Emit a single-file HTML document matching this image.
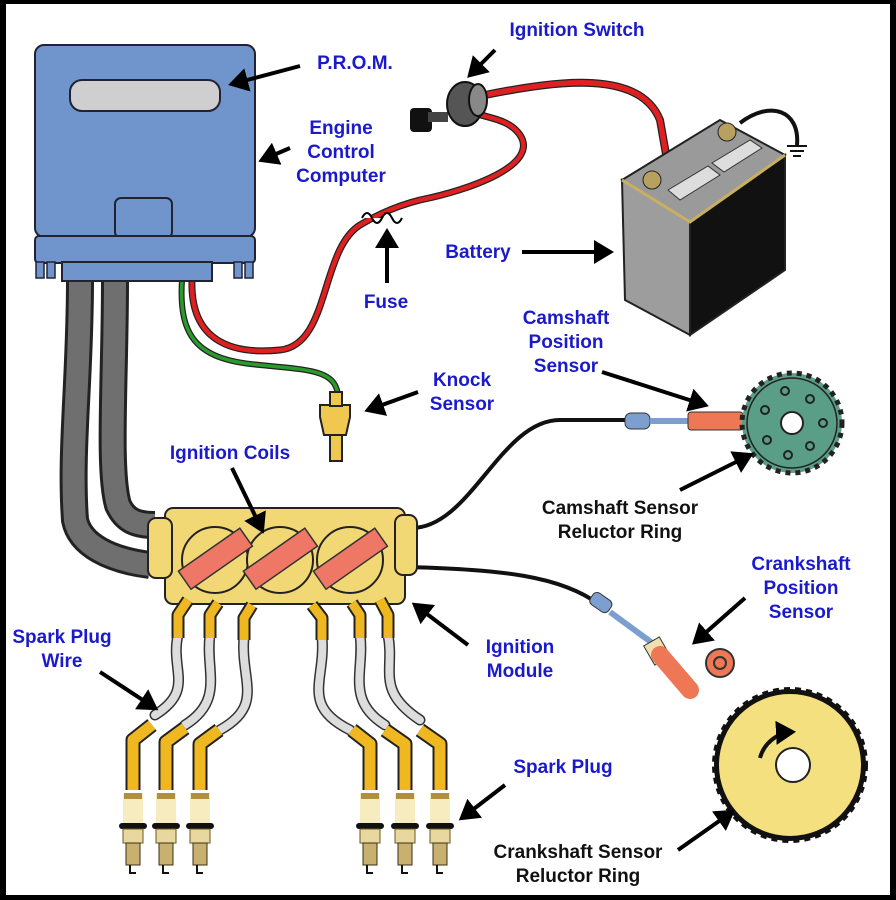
<!DOCTYPE html>
<html><head><meta charset="utf-8"><style>
html,body{margin:0;padding:0;background:#000}
svg{display:block}
.b{font-family:"Liberation Sans",sans-serif;font-weight:bold;font-size:19px;fill:#1a1acc;text-anchor:middle}
.k{font-family:"Liberation Sans",sans-serif;font-weight:bold;font-size:19px;fill:#111;text-anchor:middle}
.ar{stroke:#000;stroke-width:4;fill:none;marker-end:url(#ah)}
</style></head><body>
<svg width="896" height="900" viewBox="0 0 896 900" xmlns="http://www.w3.org/2000/svg">
<defs>
<marker id="ah" markerWidth="6" markerHeight="6" refX="4" refY="3" orient="auto" markerUnits="strokeWidth"><path d="M0,0 L5,3 L0,6 Z" fill="#000"/></marker>
<g id="plug">
<rect x="-10" y="793" width="20" height="30" fill="#f6ecc0"/>
<rect x="-9" y="793" width="18" height="6" fill="#b09040"/>
<rect x="-14" y="823" width="28" height="6" rx="3" fill="#111"/>
<rect x="-10" y="829" width="20" height="14" fill="#e8d8a0" stroke="#6a5a20"/>
<rect x="-7" y="843" width="14" height="22" fill="#c8b070" stroke="#3a3010"/>
<path d="M-3,865 v8 h6" stroke="#111" stroke-width="2" fill="none"/>
</g>
</defs>
<rect x="0" y="0" width="896" height="900" fill="#000"/>
<rect x="6" y="4" width="884" height="891" fill="#fff"/>

<path d="M80,280 C80,380 70,450 75,520 C80,545 110,560 150,565" stroke="#222" stroke-width="28" fill="none"/>
<path d="M80,280 C80,380 70,450 75,520 C80,545 110,560 150,565" stroke="#6f6f6f" stroke-width="22" fill="none"/>
<path d="M115,280 C115,380 108,470 118,505 C125,520 135,525 155,525" stroke="#222" stroke-width="28" fill="none"/>
<path d="M115,280 C115,380 108,470 118,505 C125,520 135,525 155,525" stroke="#6f6f6f" stroke-width="22" fill="none"/>

<path d="M192,280 C190,340 230,355 280,350 C330,345 320,250 360,225 C380,213 400,205 420,200 C470,190 540,165 520,135 C510,120 490,118 470,112" stroke="#222" stroke-width="7" fill="none"/>
<path d="M192,280 C190,340 230,355 280,350 C330,345 320,250 360,225 C380,213 400,205 420,200 C470,190 540,165 520,135 C510,120 490,118 470,112" stroke="#e02020" stroke-width="4.5" fill="none"/>
<path d="M485,95 C560,80 640,70 660,120 L667,160" stroke="#222" stroke-width="8" fill="none"/>
<path d="M485,95 C560,80 640,70 660,120 L667,160" stroke="#e02020" stroke-width="5.5" fill="none"/>
<path d="M362,218 q5,-10 10,0 q5,10 10,0 q5,-10 10,0 q5,10 10,0" stroke="#000" stroke-width="2" fill="#fff"/>
<path d="M182,280 C178,340 200,360 260,365 C310,370 335,370 338,395" stroke="#222" stroke-width="6" fill="none"/>
<path d="M182,280 C178,340 200,360 260,365 C310,370 335,370 338,395" stroke="#2a9a2a" stroke-width="3.5" fill="none"/>

<rect x="35" y="45" width="220" height="192" rx="9" fill="#7095cc" stroke="#223" stroke-width="2"/>
<rect x="70" y="80" width="150" height="31" rx="12" fill="#cfcfcf" stroke="#223" stroke-width="2"/>
<rect x="115" y="198" width="57" height="40" rx="6" fill="#7095cc" stroke="#223" stroke-width="2"/>
<rect x="35" y="236" width="220" height="27" rx="4" fill="#7095cc" stroke="#223" stroke-width="2"/>
<rect x="62" y="262" width="150" height="19" fill="#7095cc" stroke="#223" stroke-width="2"/>
<rect x="36" y="262" width="8" height="16" fill="#7095cc" stroke="#223" stroke-width="1.5"/>
<rect x="47" y="262" width="8" height="16" fill="#7095cc" stroke="#223" stroke-width="1.5"/>
<rect x="234" y="262" width="8" height="16" fill="#7095cc" stroke="#223" stroke-width="1.5"/>
<rect x="245" y="262" width="8" height="16" fill="#7095cc" stroke="#223" stroke-width="1.5"/>

<rect x="410" y="108" width="22" height="24" rx="4" fill="#111"/>
<rect x="428" y="112" width="20" height="10" fill="#444"/>
<ellipse cx="465" cy="104" rx="18" ry="22" fill="#555" stroke="#111" stroke-width="2"/>
<ellipse cx="478" cy="100" rx="9" ry="16" fill="#888" stroke="#111" stroke-width="2"/>

<polygon points="622,180 720,120 785,155 690,222" fill="#9a9a9a" stroke="#222" stroke-width="2"/>
<polygon points="622,180 690,222 690,335 625,300" fill="#9d9d9d" stroke="#222" stroke-width="2"/>
<polygon points="690,222 785,155 785,270 690,335" fill="#111" stroke="#222" stroke-width="2"/>
<path d="M622,180 L690,222 L785,155" stroke="#c8b060" stroke-width="3" fill="none"/>
<polygon points="668,190 708,166 720,175 680,200" fill="#ddd" stroke="#333"/>
<polygon points="712,163 750,140 762,148 724,172" fill="#ddd" stroke="#333"/>
<circle cx="652" cy="180" r="9" fill="#b8a060" stroke="#222"/>
<circle cx="727" cy="132" r="9" fill="#b8a060" stroke="#222"/>
<path d="M740,123 C770,100 800,110 797,145" stroke="#111" stroke-width="4" fill="none"/>
<path d="M787,146 h20 M790,151 h14 M793,156 h8" stroke="#111" stroke-width="2"/>

<path d="M320,405 h30 v12 l-4,18 h-22 l-4,-18z" fill="#f0c850" stroke="#222" stroke-width="2"/>
<rect x="330" y="392" width="12" height="14" fill="#f0c850" stroke="#222" stroke-width="2"/>
<rect x="330" y="435" width="12" height="26" fill="#f0c850" stroke="#222" stroke-width="2"/>

<path d="M410,528 C470,530 500,420 560,420 L630,420" stroke="#111" stroke-width="4" fill="none"/>
<rect x="625" y="413" width="25" height="16" rx="6" fill="#7d9fd0" stroke="#333"/>
<rect x="650" y="418" width="40" height="6" fill="#7d9fd0"/>
<rect x="688" y="412" width="55" height="18" rx="3" fill="#ee7755" stroke="#333"/>
<circle cx="792" cy="423" r="50" fill="#5a9e88" stroke="#222" stroke-width="5" stroke-dasharray="5 5"/>
<circle cx="792" cy="423" r="45" fill="#5a9e88" stroke="#222" stroke-width="1.5"/>
<circle cx="792" cy="423" r="11" fill="#fff" stroke="#222" stroke-width="2"/>
<g fill="none" stroke="#222" stroke-width="2">
<circle cx="785" cy="391" r="4"/><circle cx="810" cy="399" r="4"/><circle cx="823" cy="423" r="4"/><circle cx="810" cy="446" r="4"/><circle cx="788" cy="455" r="4"/><circle cx="767" cy="440" r="4"/><circle cx="765" cy="410" r="4"/></g>

<path d="M410,567 C500,570 560,575 600,605" stroke="#111" stroke-width="4" fill="none"/>
<rect x="590" y="595" width="22" height="14" rx="5" fill="#7d9fd0" stroke="#333" transform="rotate(35 600 602)"/>
<path d="M610,612 L655,645" stroke="#7d9fd0" stroke-width="6"/>
<rect x="648" y="640" width="18" height="22" fill="#f0e0b0" stroke="#333" transform="rotate(-30 657 651)"/>
<path d="M660,655 L690,690" stroke="#ee7755" stroke-width="18" stroke-linecap="round"/>
<circle cx="720" cy="663" r="14" fill="#ee7755" stroke="#333" stroke-width="2"/>
<circle cx="720" cy="663" r="6" fill="none" stroke="#333" stroke-width="2"/>

<circle cx="790" cy="765" r="76" fill="#111" stroke="#111" stroke-width="4" stroke-dasharray="6 5"/>
<circle cx="790" cy="765" r="72" fill="#f5e080" stroke="#111" stroke-width="2"/>
<circle cx="793" cy="765" r="17" fill="#fff" stroke="#222" stroke-width="2"/>
<path d="M760,758 A35,35 0 0 1 792,732" stroke="#111" stroke-width="4" fill="none" marker-end="url(#ah)"/>

<rect x="165" y="508" width="240" height="96" rx="8" fill="#f2d775" stroke="#222" stroke-width="2"/>
<rect x="148" y="518" width="24" height="60" rx="8" fill="#f2d775" stroke="#222" stroke-width="2"/>
<rect x="395" y="515" width="22" height="60" rx="8" fill="#f2d775" stroke="#222" stroke-width="2"/>
<g fill="#f2d775" stroke="#222" stroke-width="2">
<circle cx="215" cy="560" r="33"/><circle cx="280" cy="560" r="33"/><circle cx="350" cy="560" r="33"/></g>
<g fill="#ee7766" stroke="#333" stroke-width="1.5">
<rect x="178" y="548" width="75" height="22" transform="rotate(-35 215 559)"/>
<rect x="243" y="548" width="75" height="22" transform="rotate(-35 280 559)"/>
<rect x="313" y="548" width="75" height="22" transform="rotate(-35 350 559)"/></g>

<g fill="none" stroke-linecap="round">
<path d="M178,635 C170,670 195,690 155,715" stroke="#333" stroke-width="11"/>
<path d="M178,635 C170,670 195,690 155,715" stroke="#ddd" stroke-width="8"/>
<path d="M210,635 C205,670 225,700 185,725" stroke="#333" stroke-width="11"/>
<path d="M210,635 C205,670 225,700 185,725" stroke="#ddd" stroke-width="8"/>
<path d="M244,637 C240,680 265,705 220,730" stroke="#333" stroke-width="11"/>
<path d="M244,637 C240,680 265,705 220,730" stroke="#ddd" stroke-width="8"/>
<path d="M322,637 C326,680 300,705 350,730" stroke="#333" stroke-width="11"/>
<path d="M322,637 C326,680 300,705 350,730" stroke="#ddd" stroke-width="8"/>
<path d="M360,635 C365,670 345,700 385,725" stroke="#333" stroke-width="11"/>
<path d="M360,635 C365,670 345,700 385,725" stroke="#ddd" stroke-width="8"/>
<path d="M388,635 C395,670 375,690 420,720" stroke="#333" stroke-width="11"/>
<path d="M388,635 C395,670 375,690 420,720" stroke="#ddd" stroke-width="8"/>
</g>
<g stroke="#222" stroke-width="13" fill="none" stroke-linejoin="round">
<path d="M188,600 L178,615 L178,638"/><path d="M218,603 L210,615 L210,638"/><path d="M252,605 L244,618 L244,640"/><path d="M312,605 L322,618 L322,640"/><path d="M352,603 L360,615 L360,638"/><path d="M380,600 L388,615 L388,638"/></g>
<g stroke="#f0b820" stroke-width="9" fill="none" stroke-linejoin="round">
<path d="M188,600 L178,615 L178,638"/><path d="M218,603 L210,615 L210,638"/><path d="M252,605 L244,618 L244,640"/><path d="M312,605 L322,618 L322,640"/><path d="M352,603 L360,615 L360,638"/><path d="M380,600 L388,615 L388,638"/></g>
<g stroke="#222" stroke-width="15" fill="none" stroke-linejoin="round">
<path d="M152,725 L133,740 L133,790"/><path d="M185,728 L166,742 L166,790"/><path d="M219,730 L200,744 L200,790"/>
<path d="M352,730 L370,744 L370,790"/><path d="M385,730 L405,744 L405,790"/><path d="M420,730 L440,744 L440,790"/></g>
<g stroke="#f0b820" stroke-width="11" fill="none" stroke-linejoin="round">
<path d="M152,725 L133,740 L133,790"/><path d="M185,728 L166,742 L166,790"/><path d="M219,730 L200,744 L200,790"/>
<path d="M352,730 L370,744 L370,790"/><path d="M385,730 L405,744 L405,790"/><path d="M420,730 L440,744 L440,790"/></g>
<use href="#plug" x="133"/><use href="#plug" x="166"/><use href="#plug" x="200"/>
<use href="#plug" x="370"/><use href="#plug" x="405"/><use href="#plug" x="440"/>

<path class="ar" d="M300,66 L232,84"/>
<path class="ar" d="M290,148 L262,160"/>
<path class="ar" d="M495,50 L470,75"/>
<path class="ar" d="M387,283 L387,232"/>
<path class="ar" d="M522,252 L610,252"/>
<path class="ar" d="M602,372 L705,405"/>
<path class="ar" d="M418,392 L368,410"/>
<path class="ar" d="M232,468 L262,530"/>
<path class="ar" d="M680,490 L750,455"/>
<path class="ar" d="M745,598 L695,642"/>
<path class="ar" d="M468,645 L415,605"/>
<path class="ar" d="M100,672 L155,708"/>
<path class="ar" d="M505,785 L462,818"/>
<path class="ar" d="M678,850 L732,812"/>

<text class="b" x="355" y="69">P.R.O.M.</text>
<text class="b" x="577" y="36">Ignition Switch</text>
<text class="b" x="341" y="134">Engine</text>
<text class="b" x="341" y="158">Control</text>
<text class="b" x="341" y="182">Computer</text>
<text class="b" x="478" y="258">Battery</text>
<text class="b" x="386" y="308">Fuse</text>
<text class="b" x="566" y="324">Camshaft</text>
<text class="b" x="566" y="348">Position</text>
<text class="b" x="566" y="372">Sensor</text>
<text class="b" x="462" y="386">Knock</text>
<text class="b" x="462" y="410">Sensor</text>
<text class="b" x="230" y="459">Ignition Coils</text>
<text class="k" x="620" y="514">Camshaft Sensor</text>
<text class="k" x="620" y="538">Reluctor Ring</text>
<text class="b" x="801" y="570">Crankshaft</text>
<text class="b" x="801" y="594">Position</text>
<text class="b" x="801" y="618">Sensor</text>
<text class="b" x="62" y="643">Spark Plug</text>
<text class="b" x="62" y="667">Wire</text>
<text class="b" x="520" y="653">Ignition</text>
<text class="b" x="520" y="677">Module</text>
<text class="b" x="563" y="773">Spark Plug</text>
<text class="k" x="578" y="858">Crankshaft Sensor</text>
<text class="k" x="578" y="882">Reluctor Ring</text>
</svg>
</body></html>
